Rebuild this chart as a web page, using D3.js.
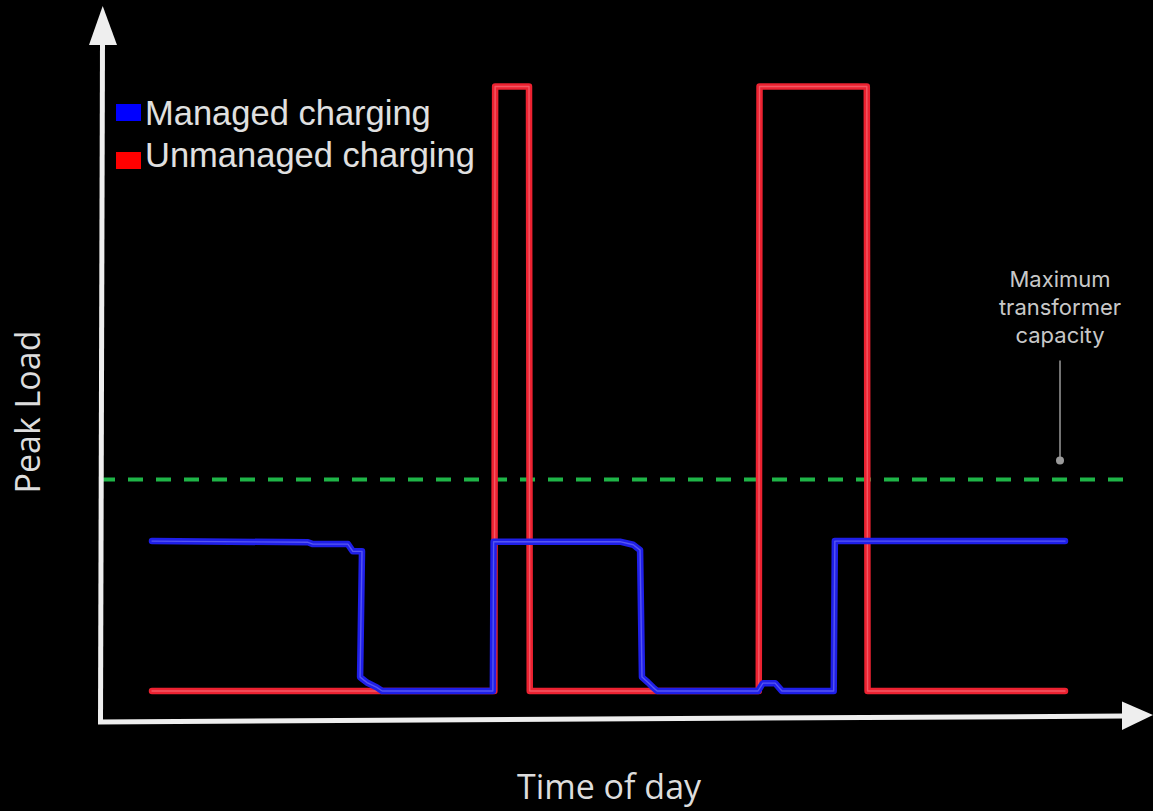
<!DOCTYPE html>
<html>
<head>
<meta charset="utf-8">
<script src="https://cdn.jsdelivr.net/npm/d3@7"></script>
<style>
  html, body { margin: 0; padding: 0; background: #000; }
  svg { display: block; }
</style>
</head>
<body>
<svg id="chart" width="1153" height="811"></svg>
<script>
// ---- Data (time of day in hours, peak load in arbitrary units) ----
const hours = [0, 24];
const loadRange = [0, 100];
const capacity = 35;

// Unmanaged charging: [hour, load]
const unmanagedHours = [0, 9.0, 9.02, 9.91, 9.93, 15.95, 15.97, 18.79, 18.81, 24];
const unmanagedLoad  = [0, 0,   100,  100,  0,    0,     100,   100,   0,     0];

// Managed charging: [hour, load]
const managedHours = [0, 4.10, 4.23, 5.15, 5.28, 5.52, 5.47, 5.65, 5.91, 6.05,
                      8.96, 8.98, 12.30, 12.65, 12.83, 12.88, 13.04, 13.17, 13.28,
                      15.93, 16.06, 16.38, 16.56, 17.92, 17.95, 24];
const managedLoad  = [24.8, 24.6, 24.3, 24.3, 23.1, 23.1, 2.3, 1.4, 0.6, 0,
                      0, 24.7, 24.7, 24.2, 23.3, 2.3, 1.4, 0.6, 0,
                      0, 1.3, 1.3, 0, 0, 24.8, 24.8];

const legendLabels = ["Managed charging", "Unmanaged charging"];
const legendColors = ["#0000ff", "#ff0000"];
const annotationLines = ["Maximum", "transformer", "capacity"];
const xTitle = "Time of day";
const yTitle = "Peak Load";

// ---- Layout ----
const svg = d3.select("#chart");
svg.append("rect").attr("width", 1153).attr("height", 811).attr("fill", "#000");

const x = d3.scaleLinear().domain(hours).range([152, 1065]);
const y = d3.scaleLinear().domain(loadRange).range([691, 86.5]);

const unmanaged = unmanagedHours.map((h, i) => [h, unmanagedLoad[i]]);
const managed = managedHours.map((h, i) => [h, managedLoad[i]]);

const line = d3.line().x(d => x(d[0])).y(d => y(d[1])).curve(d3.curveLinear);

// Capacity dashed line
svg.append("line")
  .attr("x1", 100).attr("x2", 1127)
  .attr("y1", y(capacity)).attr("y2", y(capacity))
  .attr("stroke", "#1fb548").attr("stroke-width", 4)
  .attr("stroke-dasharray", "15,13");

// Annotation leader
const annX = 1060;
svg.append("line")
  .attr("x1", annX).attr("x2", annX)
  .attr("y1", y(capacity) - 119).attr("y2", y(capacity) - 19)
  .attr("stroke", "#9a9a9a").attr("stroke-width", 1.5);
svg.append("circle")
  .attr("cx", annX).attr("cy", y(capacity) - 19).attr("r", 4)
  .attr("fill", "#9a9a9a");
svg.append("g").selectAll("text").data(annotationLines).join("text")
  .attr("x", annX).attr("y", (d, i) => 287 + i * 28)
  .attr("text-anchor", "middle")
  .attr("font-family", "Inter, 'Noto Sans', sans-serif")
  .attr("font-size", 22)
  .attr("fill", "#c8c8c8")
  .text(d => d);

// Series lines (red below, blue on top), with a light core
function drawSeries(data, color, core) {
  svg.append("path").datum(data).attr("d", line)
    .attr("fill", "none").attr("stroke", color).attr("stroke-width", 6.5)
    .attr("stroke-linejoin", "round").attr("stroke-linecap", "round");
  svg.append("path").datum(data).attr("d", line)
    .attr("fill", "none").attr("stroke", core).attr("stroke-width", 1.4)
    .attr("stroke-opacity", 0.45)
    .attr("stroke-linejoin", "round").attr("stroke-linecap", "round");
}
drawSeries(unmanaged, "#ec2231", "#ff9aa2");
drawSeries(managed, "#1f1fe8", "#9a9aff");

// Axes (arrows)
const axisColor = "#eeeeee";
svg.append("line").attr("x1", 100.5).attr("y1", 724).attr("x2", 102.5).attr("y2", 40)
  .attr("stroke", axisColor).attr("stroke-width", 5);
svg.append("polygon").attr("points", "89,45 102.7,6 117,45").attr("fill", axisColor);
svg.append("line").attr("x1", 98).attr("y1", 722).attr("x2", 1125).attr("y2", 716)
  .attr("stroke", axisColor).attr("stroke-width", 5);
svg.append("polygon").attr("points", "1122,701.5 1153,715 1122,730").attr("fill", axisColor);

// Axis titles
svg.append("text")
  .attr("x", 609).attr("y", 799)
  .attr("text-anchor", "middle")
  .attr("font-family", "'Open Sans', sans-serif")
  .attr("font-size", 34)
  .attr("fill", "#dddddd")
  .text(xTitle);
svg.append("text")
  .attr("transform", "translate(40,412) rotate(-90)")
  .attr("text-anchor", "middle")
  .attr("font-family", "'Open Sans', sans-serif")
  .attr("font-size", 34)
  .attr("fill", "#dddddd")
  .text(yTitle);

// Legend
const legend = svg.append("g");
legendLabels.forEach((lab, i) => {
  legend.append("rect")
    .attr("x", 116).attr("y", 104 + i * 48)
    .attr("width", 25).attr("height", 17)
    .attr("fill", legendColors[i]);
  legend.append("text")
    .attr("x", 145).attr("y", 125 + i * 42)
    .attr("font-family", "'Liberation Sans', Arial, sans-serif")
    .attr("font-size", 34.5)
    .attr("fill", "#e0e0e0")
    .text(lab);
});
</script>
</body>
</html>
